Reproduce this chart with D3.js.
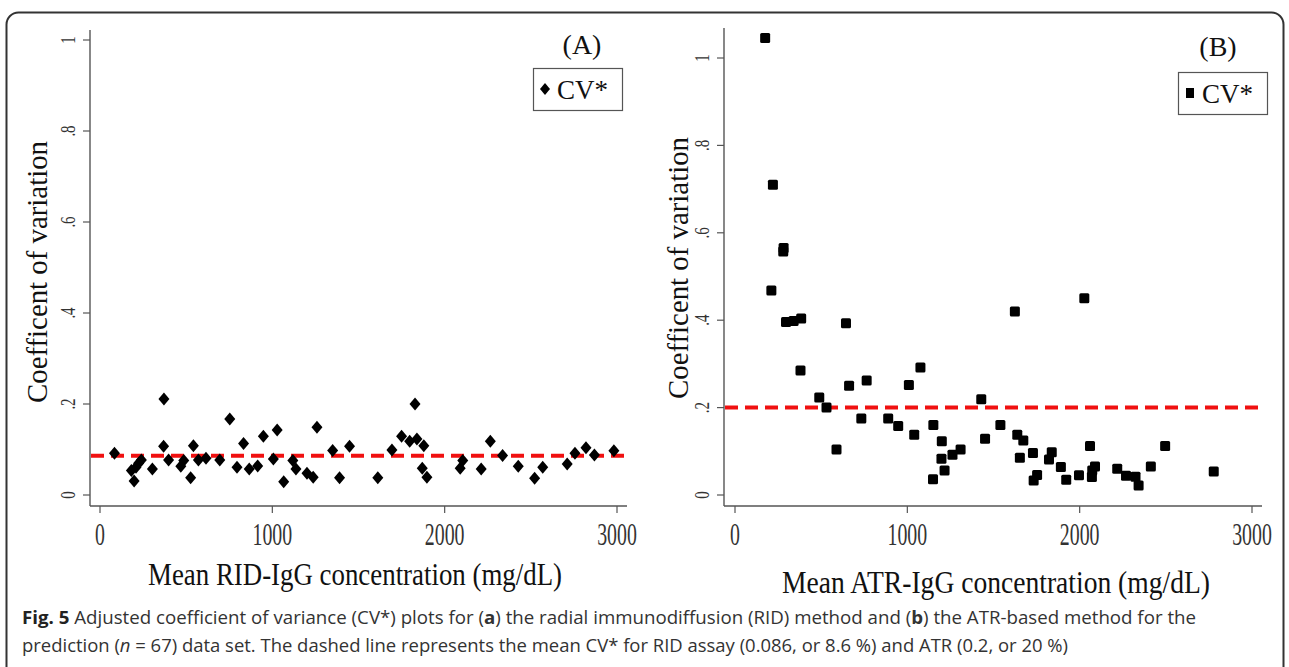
<!DOCTYPE html>
<html>
<head>
<meta charset="utf-8">
<script src="https://cdn.jsdelivr.net/npm/d3@7"></script>
<style>
  html, body { margin: 0; padding: 0; background: #fff; }
  svg { display: block; }
  .serif { font-family: "Liberation Serif", "Times New Roman", serif; }
  .cap { font-family: "Open Sans", "Noto Sans", sans-serif; fill: #333; }
</style>
</head>
<body>
<svg id="chart" width="1289" height="667"></svg>
<script>
// panel A: RID-IgG concentration vs CV*
const ridConc = [84, 182, 198, 209, 224, 240, 304, 371, 369, 398, 469, 486, 526, 542, 571, 615, 695, 753, 795, 833,
  866, 915, 948, 1006, 1028, 1066, 1119, 1137, 1201, 1237, 1259, 1350, 1390, 1448, 1612, 1694, 1750, 1797, 1828, 1839,
  1879, 1870, 1897, 2090, 2105, 2212, 2265, 2336, 2427, 2522, 2569, 2711, 2756, 2820, 2869, 2982];
const ridCV = [0.092, 0.054, 0.031, 0.061, 0.070, 0.077, 0.057, 0.211, 0.107, 0.077, 0.063, 0.076, 0.038, 0.108, 0.077, 0.081, 0.077, 0.167, 0.061, 0.113,
  0.057, 0.064, 0.129, 0.079, 0.143, 0.029, 0.076, 0.057, 0.048, 0.039, 0.149, 0.098, 0.038, 0.107, 0.038, 0.099, 0.129, 0.118, 0.200, 0.123,
  0.108, 0.059, 0.039, 0.059, 0.076, 0.057, 0.118, 0.087, 0.063, 0.037, 0.061, 0.068, 0.092, 0.104, 0.088, 0.097];
const ridMean = 0.086;

// panel B: ATR-IgG concentration vs CV*
const atrConc = [175, 220, 282, 280, 211, 296, 340, 384, 644, 1624, 2027,
  380, 489, 531, 589, 662, 733, 764, 889, 947, 1009, 1040, 1076, 1149, 1151, 1200, 1198, 1216, 1262, 1309,
  1429, 1451, 1540, 1638, 1673, 1653, 1729, 1733, 1753, 1822, 1838, 1891, 1922, 1996, 2060, 2071, 2073, 2089,
  2218, 2269, 2324, 2342, 2413, 2496, 2778];
const atrCV = [1.046, 0.710, 0.565, 0.557, 0.468, 0.396, 0.398, 0.404, 0.393, 0.420, 0.450,
  0.285, 0.223, 0.200, 0.104, 0.250, 0.175, 0.262, 0.175, 0.158, 0.252, 0.138, 0.292, 0.036, 0.160, 0.123, 0.083, 0.056, 0.092, 0.104,
  0.219, 0.129, 0.160, 0.138, 0.125, 0.085, 0.096, 0.033, 0.046, 0.081, 0.098, 0.064, 0.035, 0.045, 0.112, 0.041, 0.056, 0.065,
  0.060, 0.044, 0.042, 0.022, 0.065, 0.112, 0.054];
const atrMean = 0.2;

const xTicks = [0, 1000, 2000, 3000];
const yTicks = [0, 0.2, 0.4, 0.6, 0.8, 1];
const yTickFmt = d => d === 0 ? "0" : d === 1 ? "1" : String(d).replace("0.", ".");

const svg = d3.select("#chart");

// rounded frame around the whole figure
svg.append("rect")
  .attr("x", 6.5).attr("y", 12.5).attr("width", 1277).attr("height", 720)
  .attr("rx", 12).attr("fill", "none").attr("stroke", "#333").attr("stroke-width", 2);

const diamond = "M0,-6.5L5.5,0L0,6.5L-5.5,0Z";

function panel(cfg) {
  const x = d3.scaleLinear().domain([0, 3000]).range(cfg.xr);
  const y = d3.scaleLinear().domain([0, 1]).range(cfg.yr);
  const g = svg.append("g");
  const axisCol = "#555";

  // axis lines
  g.append("line").attr("x1", cfg.axX).attr("x2", cfg.axX).attr("y1", cfg.axTop).attr("y2", cfg.axY)
    .attr("stroke", axisCol).attr("stroke-width", 1.4);
  g.append("line").attr("x1", cfg.axX).attr("x2", cfg.axRight).attr("y1", cfg.axY).attr("y2", cfg.axY)
    .attr("stroke", axisCol).attr("stroke-width", 1.4);

  // y ticks + rotated labels
  const yt = g.selectAll(".yt").data(yTicks).join("g").attr("class", "yt");
  yt.append("line").attr("x1", cfg.axX - 7).attr("x2", cfg.axX).attr("y1", d => y(d)).attr("y2", d => y(d))
    .attr("stroke", axisCol).attr("stroke-width", 1.2);
  yt.append("text").attr("class", "serif")
    .attr("transform", d => `translate(${cfg.axX - 15},${y(d)}) rotate(-90) scale(0.75,1)`)
    .attr("text-anchor", "middle").attr("font-size", 20).attr("fill", "#333")
    .text(yTickFmt);

  // x ticks + labels
  const xt = g.selectAll(".xt").data(xTicks).join("g").attr("class", "xt");
  xt.append("line").attr("x1", d => x(d)).attr("x2", d => x(d)).attr("y1", cfg.axY).attr("y2", cfg.axY + 7)
    .attr("stroke", axisCol).attr("stroke-width", 1.2);
  xt.append("text").attr("class", "serif")
    .attr("transform", d => `translate(${x(d)},545) scale(0.62,1)`)
    .attr("text-anchor", "middle").attr("font-size", 32).attr("fill", "#333")
    .text(d => d);

  // mean line
  g.append("line").attr("x1", cfg.axX + 1).attr("x2", cfg.axRight).attr("y1", y(cfg.mean)).attr("y2", y(cfg.mean))
    .attr("stroke", "#f01010").attr("stroke-width", 4).attr("stroke-dasharray", "13,7");

  // points
  const pts = d3.zip(cfg.xs, cfg.ys);
  if (cfg.shape === "diamond") {
    g.selectAll(".pt").data(pts).join("path").attr("class", "pt")
      .attr("d", diamond).attr("transform", d => `translate(${x(d[0])},${y(d[1])})`).attr("fill", "#000");
  } else {
    g.selectAll(".pt").data(pts).join("rect").attr("class", "pt")
      .attr("x", d => x(d[0]) - 5).attr("y", d => y(d[1]) - 5).attr("width", 10).attr("height", 10)
      .attr("rx", 1.5).attr("fill", "#000");
  }

  // axis titles
  g.append("text").attr("class", "serif")
    .attr("transform", `translate(${cfg.yTitleX},${cfg.yTitleY}) rotate(-90)`)
    .attr("text-anchor", "middle").attr("font-size", 29).attr("fill", "#111")
    .attr("textLength", 262).attr("lengthAdjust", "spacingAndGlyphs")
    .text("Coefficent of variation");
  g.append("text").attr("class", "serif")
    .attr("x", cfg.xTitleX).attr("y", cfg.xTitleY)
    .attr("text-anchor", "middle").attr("font-size", 31).attr("fill", "#111")
    .attr("textLength", cfg.xTitleLen).attr("lengthAdjust", "spacingAndGlyphs")
    .text(cfg.xTitle);

  // panel label
  g.append("text").attr("class", "serif").attr("x", cfg.lab[0]).attr("y", cfg.lab[1])
    .attr("text-anchor", "middle").attr("font-size", 28).attr("fill", "#111").text(cfg.label);

  // legend
  const lg = g.append("g").attr("transform", `translate(${cfg.leg[0]},${cfg.leg[1]})`);
  lg.append("rect").attr("x", 0.5).attr("y", 0.5).attr("width", 89).attr("height", 42)
    .attr("fill", "#fff").attr("stroke", "#555").attr("stroke-width", 1.2);
  if (cfg.shape === "diamond") {
    lg.append("path").attr("d", "M0,-6L5,0L0,6L-5,0Z").attr("transform", "translate(12,21)").attr("fill", "#000");
  } else {
    lg.append("rect").attr("x", 8).attr("y", 16).attr("width", 8).attr("height", 10).attr("fill", "#000");
  }
  lg.append("text").attr("class", "serif").attr("x", 24).attr("y", 31)
    .attr("font-size", 27).attr("fill", "#111").text("CV*");
}

panel({
  xr: [100, 617], yr: [495, 40], axX: 90, axY: 506, axTop: 30, axRight: 627,
  xs: ridConc, ys: ridCV, mean: ridMean, shape: "diamond",
  yTitleX: 47, yTitleY: 272, xTitleX: 355, xTitleY: 585, xTitleLen: 414,
  xTitle: "Mean RID-IgG concentration (mg/dL)", label: "(A)", lab: [582, 54], leg: [533, 68]
});
panel({
  xr: [735, 1252], yr: [495, 58], axX: 724, axY: 506, axTop: 28, axRight: 1262,
  xs: atrConc, ys: atrCV, mean: atrMean, shape: "square",
  yTitleX: 688, yTitleY: 268, xTitleX: 996, xTitleY: 593, xTitleLen: 428,
  xTitle: "Mean ATR-IgG concentration (mg/dL)", label: "(B)", lab: [1218, 56], leg: [1178, 72]
});

// caption
const c1 = svg.append("text").attr("class", "cap").attr("x", 22).attr("y", 624).attr("font-size", 18)
  .attr("textLength", 1174).attr("lengthAdjust", "spacingAndGlyphs");
c1.append("tspan").attr("font-weight", "bold").attr("fill", "#222").text("Fig. 5");
c1.append("tspan").text(" Adjusted coefficient of variance (CV*) plots for (");
c1.append("tspan").attr("font-weight", "bold").text("a");
c1.append("tspan").text(") the radial immunodiffusion (RID) method and (");
c1.append("tspan").attr("font-weight", "bold").text("b");
c1.append("tspan").text(") the ATR-based method for the");

const c2 = svg.append("text").attr("class", "cap").attr("x", 22).attr("y", 652).attr("font-size", 18)
  .attr("textLength", 1046).attr("lengthAdjust", "spacingAndGlyphs");
c2.append("tspan").text("prediction (");
c2.append("tspan").attr("font-style", "italic").text("n");
c2.append("tspan").text(" = 67) data set. The dashed line represents the mean CV* for RID assay (0.086, or 8.6 %) and ATR (0.2, or 20 %)");
</script>
</body>
</html>
